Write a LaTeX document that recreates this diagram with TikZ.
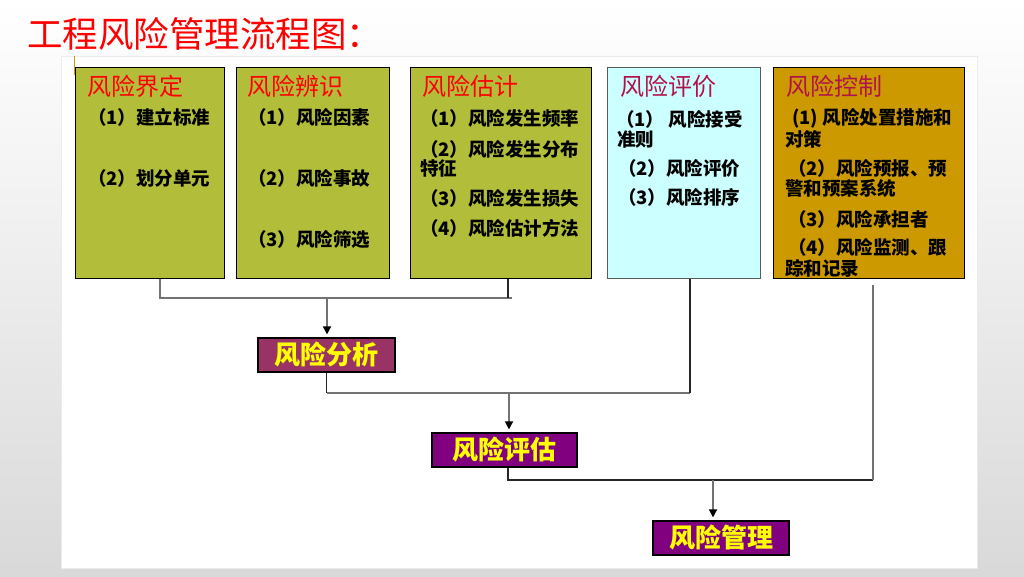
\documentclass[tikz,border=0pt]{standalone}
\usepackage{fontspec}
\newfontfamily\cjk{Noto Sans CJK SC}
\usetikzlibrary{arrows.meta}
\definecolor{cOlive}{HTML}{B2BE3A}
\definecolor{cCyan}{HTML}{CCFFFF}
\definecolor{cGold}{HTML}{CC9900}
\definecolor{cPlum}{HTML}{993366}
\definecolor{cPurple}{HTML}{800080}
\definecolor{cCrimson}{HTML}{B2124A}
\definecolor{cYellow}{HTML}{FFFF00}
\tikzset{
  bigbox/.style={draw=black, line width=1.2pt, anchor=north west, inner sep=0pt},
  hd/.style={anchor=west, inner sep=0pt, font=\cjk\fontsize{24}{26}\selectfont},
  bd/.style={anchor=west, inner sep=0pt, font=\cjk\bfseries\fontsize{18.5}{20}\selectfont},
  smallbox/.style={draw=black, line width=1.2pt, inner sep=0pt, minimum height=34pt,
    text=cYellow, font=\cjk\bfseries\fontsize{26}{28}\selectfont},
  conn/.style={draw=black!85, line width=1.1pt},
  connG/.style={draw=black!55, line width=1.5pt},
  arr/.style={draw=black!55, line width=1.5pt, -{Triangle[width=8pt,length=8pt,color=black]}, shorten >=3pt}
}
\begin{document}
\begin{tikzpicture}[x=1pt,y=-1pt]
\useasboundingbox (0,0) rectangle (1024,576);
\shade[top color=white, bottom color=black!15] (0,0) rectangle (1024,576);
\fill[white, draw=black!8, line width=0.6pt] (61,56) rectangle (977,568);
\draw[cGold, line width=1.5pt] (74.5,56) -- (74.5,75);

\node[anchor=west, inner sep=0pt, text=red, font=\cjk\fontsize{35.5}{38}\selectfont] (title) at (27,34) {工程风险管理流程图：};

% top boxes
\node[bigbox, fill=cOlive, minimum width=149pt, minimum height=211pt] (b1) at (75,67) {};
\node[bigbox, fill=cOlive, minimum width=153pt, minimum height=211pt] (b2) at (236,67) {};
\node[bigbox, fill=cOlive, minimum width=181pt, minimum height=211pt] (b3) at (410,67) {};
\node[bigbox, draw=black!65, fill=cCyan, minimum width=153pt, minimum height=211pt] (b4) at (607,67) {};
\node[bigbox, fill=cGold, minimum width=191pt, minimum height=211pt] (b5) at (773,67) {};

% box 1
\node[hd, text=red] (h1) at (87,86) {风险界定};
\node[bd] (t1a) at (88,117) {（1）建立标准};
\node[bd] (t1b) at (88,178) {（2）划分单元};
% box 2
\node[hd, text=red] (h2) at (247,86) {风险辨识};
\node[bd] (t2a) at (248,117) {（1）风险因素};
\node[bd] (t2b) at (248,178) {（2）风险事故};
\node[bd] (t2c) at (248,239) {（3）风险筛选};
% box 3
\node[hd, text=red] (h3) at (422,86) {风险估计};
\node[bd] (t3a) at (420,118) {（1）风险发生频率};
\node[bd] (t3b) at (420,149) {（2）风险发生分布};
\node[bd] (t3c) at (420,168) {特征};
\node[bd] (t3d) at (420,198) {（3）风险发生损失};
\node[bd] (t3e) at (420,228) {（4）风险估计方法};
% box 4
\node[hd, text=cCrimson] (h4) at (620,86) {风险评价};
\node[bd] (t4a) at (616,119) {（1） 风险接受};
\node[bd] (t4b) at (617,139) {准则};
\node[bd] (t4c) at (618,168) {（2）风险评价};
\node[bd] (t4d) at (618,197) {（3）风险排序};
% box 5
\node[hd, text=cCrimson] (h5) at (786,86) {风险控制};
\node[bd] (t5a) at (792,118) {(1) 风险处置措施和};
\node[bd] (t5b) at (785,139) {对策};
\node[bd] (t5c) at (788,168) {（2）风险预报、预};
\node[bd] (t5d) at (785,188) {警和预案系统};
\node[bd] (t5e) at (788,219) {（3）风险承担者};
\node[bd] (t5f) at (788,247) {（4）风险监测、跟};
\node[bd] (t5g) at (785,268) {踪和记录};

% lower boxes
\node[smallbox, fill=cPlum, minimum width=137pt] (fx) at (326.5,355) {风险分析};
\node[smallbox, fill=cPurple, minimum width=145pt] (pg) at (504.5,450) {风险评估};
\node[smallbox, fill=cPurple, minimum width=136pt] (gl) at (721,538) {风险管理};

% connectors
\coordinate (h1l) at (160,298);
\coordinate (h1m) at (508,298);
\coordinate (h1r) at (512,298);
\coordinate (a1) at (327,298);
\draw[connG] (b1.south -| h1l) -- (h1l) -- (h1r);
\draw[conn] (b3.south -| h1m) -- (h1m);
\draw[arr] (a1) -- (a1 |- fx.north);

\coordinate (h2r) at (690,393);
\coordinate (a2) at (509,393);
\draw[conn] (fx.south) -- (fx.south |- h2r);
\draw[connG] (fx.south |- h2r) -- (h2r);
\draw[conn] (h2r) -- (b4.south -| h2r);
\draw[arr] (a2) -- (a2 |- pg.north);

\coordinate (h3l) at (508,480);
\coordinate (h3r) at (873,480);
\coordinate (c5) at (873,285);
\coordinate (a3) at (713,480);
\draw[conn] (pg.south -| h3l) -- (h3l) -- (h3r);
\draw[connG] (h3r) -- (c5);
\draw[arr] (a3) -- (a3 |- gl.north);
\end{tikzpicture}
\end{document}
